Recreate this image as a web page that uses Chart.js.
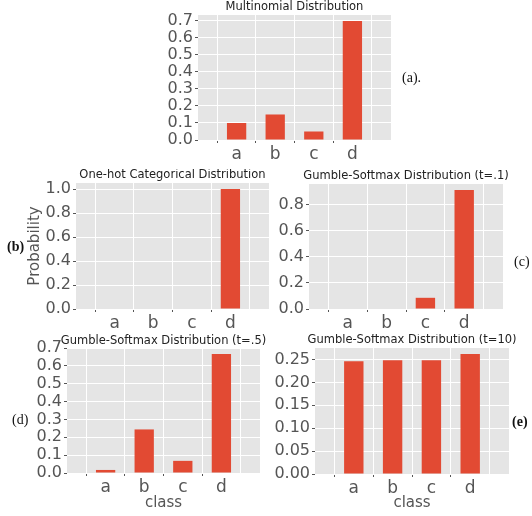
<!DOCTYPE html>
<html>
<head>
<meta charset="utf-8">
<script src="https://cdn.jsdelivr.net/npm/chart.js@4.4.1/dist/chart.umd.min.js"></script>
<style>
  body { margin: 0; background: #fff; }
  #wrap { position: relative; width: 532px; height: 516px; overflow: hidden; }
  .panel { position: absolute; }
  .tag { position: absolute; font-family: "Liberation Serif", "DejaVu Serif", serif; font-size: 14px; color: #111; line-height: 1; }
</style>
</head>
<body>
<div id="wrap">
  <div class="panel" style="left:140px;top:0px"><canvas id="ca" width="263" height="165"></canvas></div>
  <div class="panel" style="left:0px;top:169px"><canvas id="cb" width="281" height="165"></canvas></div>
  <div class="panel" style="left:270px;top:170px"><canvas id="cc" width="245" height="164"></canvas></div>
  <div class="panel" style="left:0px;top:334px"><canvas id="cd" width="272" height="182"></canvas></div>
  <div class="panel" style="left:270px;top:334px"><canvas id="ce" width="251" height="182"></canvas></div>
  <div class="tag" style="left:402px;top:71px">(a).</div>
  <div class="tag" style="left:7px;top:240px;font-weight:bold">(b)</div>
  <div class="tag" style="left:514px;top:255px">(c)</div>
  <div class="tag" style="left:12px;top:413px">(d)</div>
  <div class="tag" style="left:512px;top:415px;font-weight:bold">(e)</div>
</div>
<script>
// data
const classes = ['a', 'b', 'c', 'd'];
const multinomial = [0.1, 0.15, 0.05, 0.7];
const oneHot = [0, 0, 0, 1.0];
const gumbleT01 = [0, 0, 0.086, 0.914];
const gumbleT05 = [0.017, 0.244, 0.068, 0.667];
const gumbleT10 = [0.246, 0.248, 0.248, 0.262];

const titles = [
  'Multinomial Distribution',
  'One-hot Categorical Distribution',
  'Gumble-Softmax Distribution (t=.1)',
  'Gumble-Softmax Distribution (t=.5)',
  'Gumble-Softmax Distribution (t=10)'
];
const yMaxes = [0.735, 1.05, 0.96, 0.70, 0.275];
const ySteps = [0.1, 0.2, 0.2, 0.1, 0.05];
const yDecimals = [1, 1, 1, 1, 2];

const FONT = "'DejaVu Sans', Verdana, sans-serif";
const BAR = '#E24A33';
const PANEL_BG = '#E5E5E5';

// fill plot area grey like ggplot style, and put the title over the plot area (not the whole canvas)
const panelPlugin = {
  id: 'panel',
  beforeDraw(chart) {
    const { ctx, chartArea } = chart;
    ctx.save();
    ctx.fillStyle = PANEL_BG;
    ctx.fillRect(chartArea.left, chartArea.top, chartArea.right - chartArea.left, chartArea.bottom - chartArea.top);
    ctx.restore();
  },
  afterDraw(chart, args, opts) {
    const { ctx, chartArea } = chart;
    ctx.save();
    ctx.font = '11.5px ' + FONT;
    ctx.fillStyle = '#222';
    ctx.textAlign = 'center';
    ctx.textBaseline = 'bottom';
    ctx.fillText(opts.text, (chartArea.left + chartArea.right) / 2, chartArea.top - opts.gap);
    ctx.restore();
  }
};

function makeChart(id, idx, values, opts) {
  // pad an empty slot on each side so the x range runs from -1 to 4
  const labels = [''].concat(classes, ['']);
  const data = [null].concat(values, [null]);
  const ctx = document.getElementById(id).getContext('2d');
  return new Chart(ctx, {
    type: 'bar',
    data: {
      labels: labels,
      datasets: [{
        data: data,
        backgroundColor: BAR,
        borderWidth: 0,
        barPercentage: 0.5,
        categoryPercentage: 1.0
      }]
    },
    options: {
      responsive: false,
      animation: false,
      devicePixelRatio: 1,
      layout: { padding: { top: opts.top, right: 12, bottom: 0, left: 0 } },
      plugins: {
        legend: { display: false },
        tooltip: { enabled: false },
        title: { display: false },
        panel: { text: titles[idx], gap: opts.gap }
      },
      scales: {
        x: {
          offset: false,
          grid: {
            color: '#fff',
            lineWidth: 1,
            drawTicks: true,
            tickLength: 3,
            tickColor: (c) => (c.tick && c.tick.label ? '#555' : 'rgba(0,0,0,0)')
          },
          border: { display: false },
          ticks: {
            color: '#555',
            font: { family: FONT, size: 17 },
            padding: 1,
            maxRotation: 0,
            autoSkip: false
          },
          title: {
            display: !!opts.xTitle,
            text: 'class',
            color: '#555',
            font: { family: FONT, size: 15, lineHeight: 1.2 },
            padding: { top: 0, bottom: 4 }
          },
          afterFit: (scale) => { scale.height = opts.xHeight; }
        },
        y: {
          min: 0,
          max: yMaxes[idx],
          grid: {
            color: '#fff',
            lineWidth: 1,
            drawTicks: true,
            tickLength: 3,
            tickColor: '#555'
          },
          border: { display: false },
          ticks: {
            stepSize: ySteps[idx],
            includeBounds: false,
            autoSkip: false,
            color: '#555',
            font: { family: FONT, size: 16, lineHeight: 1.0 },
            padding: 2,
            callback: (v) => Number(v).toFixed(yDecimals[idx])
          },
          title: {
            display: !!opts.yTitle,
            text: 'Probability',
            color: '#555',
            font: { family: FONT, size: 15, lineHeight: 1.2 },
            padding: { top: 26, bottom: 0 }
          },
          afterFit: (scale) => { scale.width = opts.yWidth; }
        }
      }
    },
    plugins: [panelPlugin]
  });
}

makeChart('ca', 0, multinomial, { yWidth: 58, xHeight: 25, top: 15, gap: 2 });
makeChart('cb', 1, oneHot, { yWidth: 76, xHeight: 25, top: 14, gap: 2, yTitle: true });
makeChart('cc', 2, gumbleT01, { yWidth: 39, xHeight: 25, top: 14, gap: 2 });
makeChart('cd', 3, gumbleT05, { yWidth: 67, xHeight: 43, top: 14, gap: 1, xTitle: true });
makeChart('ce', 4, gumbleT10, { yWidth: 45, xHeight: 42, top: 14, gap: 2, xTitle: true });
</script>
</body>
</html>
